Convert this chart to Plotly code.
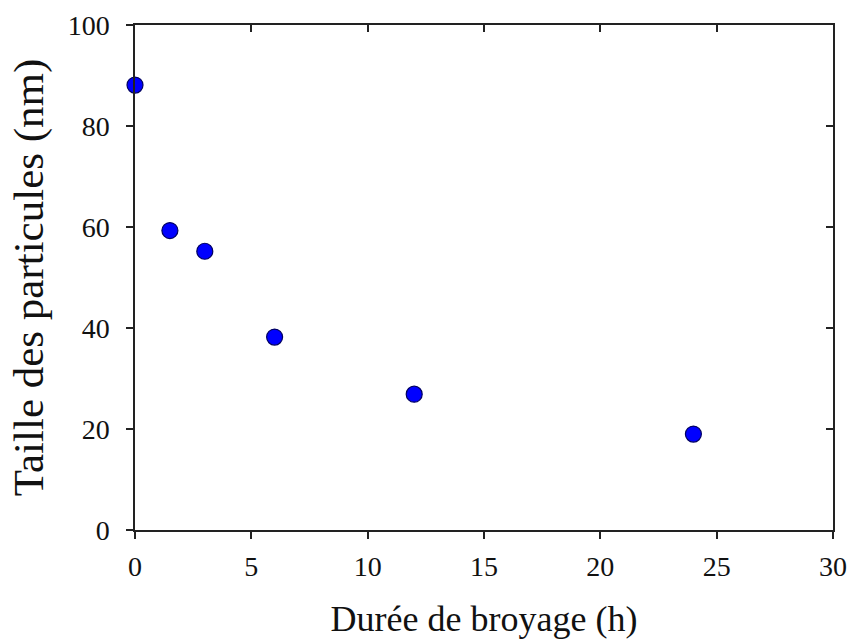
import plotly.graph_objects as go

duree_h = [0, 1.5, 3, 6, 12, 24]
taille_nm = [88.1, 59.3, 55.2, 38.2, 26.9, 19.0]

x_ticks = [0, 5, 10, 15, 20, 25, 30]
y_ticks = [0, 20, 40, 60, 80, 100]

font_family = "Liberation Serif, Times New Roman, serif"

fig = go.Figure()
fig.add_trace(go.Scatter(
    x=duree_h, y=taille_nm, mode="markers",
    marker=dict(size=16, color="#0000FF", line=dict(color="#000060", width=1.2)),
    showlegend=False, cliponaxis=False,
))
# helper trace for the inside ticks of the top/right frame
fig.add_trace(go.Scatter(x=[None], y=[None], xaxis="x2", yaxis="y2",
                         showlegend=False, hoverinfo="skip"))

axis_common = dict(showgrid=False, zeroline=False, showline=True,
                   linecolor="#222222", linewidth=1.5,
                   ticklen=7, tickwidth=1.5, tickcolor="#222222",
                   automargin=False)

fig.update_layout(
    width=850, height=639,
    margin=dict(l=135, r=17, t=25, b=109),
    paper_bgcolor="white", plot_bgcolor="white",
    font=dict(family=font_family, color="#111111"),
    xaxis=dict(range=[0, 30], tickvals=x_ticks, ticks="outside",
               tickfont=dict(size=28, family=font_family), ticklabelstandoff=4,
               title=dict(text="Durée de broyage (h)", font=dict(size=36, family=font_family), standoff=31),
               **axis_common),
    yaxis=dict(range=[0, 100], tickvals=y_ticks, ticks="outside",
               tickfont=dict(size=28, family=font_family), ticklabelstandoff=11,
               title=dict(text="Taille des particules (nm)", font=dict(size=43, family=font_family), standoff=11),
               **axis_common),
    xaxis2=dict(range=[0, 30], tickvals=x_ticks, ticks="inside", side="top",
                overlaying="x", showticklabels=False, **axis_common),
    yaxis2=dict(range=[0, 100], tickvals=y_ticks, ticks="inside", side="right",
                overlaying="y", showticklabels=False, **axis_common),
)

fig.write_html("out.html",
               config={"displayModeBar": False},
               post_script="document.body.style.margin='0';document.body.style.overflow='hidden';")
